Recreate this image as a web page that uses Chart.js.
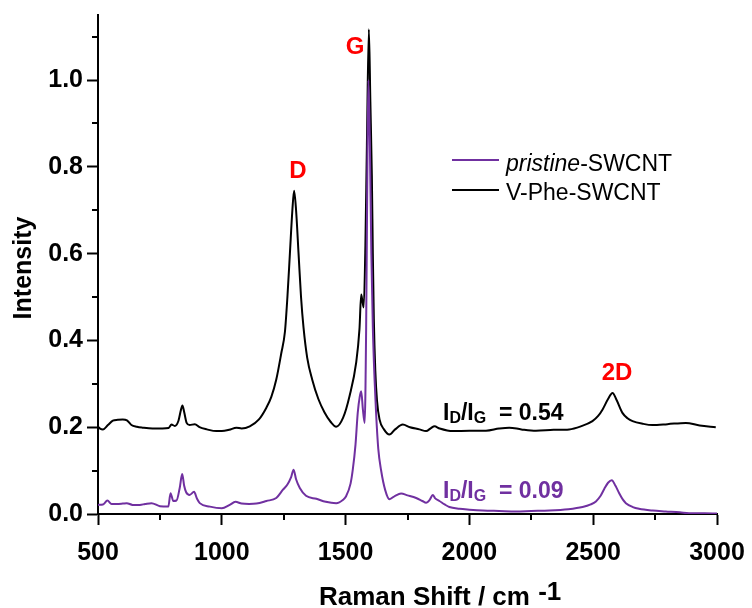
<!DOCTYPE html>
<html>
<head>
<meta charset="utf-8">
<script src="https://cdn.jsdelivr.net/npm/chart.js@4/dist/chart.umd.min.js"></script>
<style>
  html, body { margin: 0; padding: 0; background: #fff; }
  #wrap { width: 752px; height: 608px; }
</style>
</head>
<body>
<div id="wrap"><canvas id="c" width="752" height="608"></canvas></div>
<script>
// ---- data ----
const xTickValues = [500, 1000, 1500, 2000, 2500, 3000];
const yTickValues = [0.0, 0.2, 0.4, 0.6, 0.8, 1.0];
const seriesNames = ["pristine-SWCNT", "V-Phe-SWCNT"];

const shiftPristine = [500, 520, 538, 555, 575, 600, 616, 640, 669, 690, 716, 750, 784, 793, 804, 817, 830, 840, 848, 856, 870, 888, 900, 911, 952, 1000, 1032, 1055, 1080, 1110, 1140, 1180, 1220, 1247, 1265, 1280, 1290, 1300, 1315, 1340, 1382, 1420, 1462, 1490, 1502, 1520, 1529, 1540, 1549, 1557, 1563, 1570, 1577, 1583, 1588, 1592, 1598, 1604, 1610, 1617, 1623, 1632, 1643, 1660, 1677, 1700, 1724, 1750, 1785, 1810, 1825, 1840, 1852, 1862, 1879, 1900, 1919, 1960, 2000, 2054, 2120, 2188, 2250, 2323, 2400, 2457, 2490, 2511, 2530, 2545, 2560, 2575, 2590, 2605, 2620, 2632, 2660, 2685, 2740, 2793, 2850, 2887, 2950, 3000];
const intensityPristine = [0.021, 0.022, 0.031, 0.023, 0.023, 0.024, 0.025, 0.021, 0.021, 0.023, 0.025, 0.018, 0.017, 0.048, 0.030, 0.031, 0.060, 0.092, 0.065, 0.050, 0.044, 0.051, 0.035, 0.025, 0.017, 0.013, 0.021, 0.028, 0.024, 0.023, 0.024, 0.030, 0.037, 0.056, 0.068, 0.085, 0.102, 0.080, 0.060, 0.042, 0.035, 0.028, 0.025, 0.033, 0.041, 0.070, 0.102, 0.160, 0.233, 0.270, 0.283, 0.240, 0.210, 0.430, 0.800, 1.000, 0.850, 0.600, 0.430, 0.310, 0.234, 0.150, 0.102, 0.055, 0.034, 0.042, 0.047, 0.043, 0.037, 0.030, 0.026, 0.033, 0.044, 0.036, 0.030, 0.022, 0.016, 0.012, 0.010, 0.008, 0.007, 0.006, 0.007, 0.008, 0.011, 0.016, 0.022, 0.029, 0.042, 0.058, 0.072, 0.078, 0.065, 0.048, 0.033, 0.025, 0.016, 0.012, 0.008, 0.006, 0.004, 0.002, 0.002, 0.001];

const shiftVPhe = [500, 510, 520, 540, 560, 580, 600, 617, 635, 657, 680, 720, 760, 785, 797, 810, 825, 835, 841, 848, 858, 870, 891, 910, 940, 978, 1000, 1030, 1059, 1080, 1113, 1150, 1180, 1200, 1220, 1240, 1255, 1265, 1275, 1285, 1292, 1300, 1310, 1320, 1330, 1345, 1365, 1390, 1415, 1440, 1462, 1490, 1516, 1543, 1556, 1563, 1568, 1573, 1580, 1586, 1594, 1600, 1606, 1610, 1614, 1620, 1627, 1637, 1655, 1677, 1700, 1731, 1760, 1798, 1825, 1845, 1859, 1880, 1933, 2000, 2067, 2120, 2161, 2210, 2269, 2340, 2403, 2450, 2497, 2520, 2538, 2560, 2578, 2595, 2618, 2640, 2659, 2700, 2739, 2800, 2874, 2930, 2995];
const intensityVPhe = [0.201, 0.196, 0.195, 0.205, 0.215, 0.217, 0.218, 0.216, 0.205, 0.201, 0.199, 0.197, 0.197, 0.198, 0.206, 0.203, 0.215, 0.240, 0.250, 0.235, 0.210, 0.205, 0.207, 0.200, 0.195, 0.191, 0.191, 0.194, 0.199, 0.197, 0.202, 0.218, 0.245, 0.270, 0.310, 0.370, 0.420, 0.500, 0.600, 0.700, 0.745, 0.700, 0.600, 0.500, 0.430, 0.360, 0.310, 0.265, 0.234, 0.212, 0.201, 0.222, 0.272, 0.350, 0.426, 0.506, 0.490, 0.476, 0.620, 0.850, 1.117, 0.950, 0.780, 0.600, 0.450, 0.330, 0.260, 0.218, 0.195, 0.183, 0.195, 0.206, 0.200, 0.195, 0.191, 0.198, 0.202, 0.197, 0.191, 0.192, 0.192, 0.197, 0.199, 0.195, 0.192, 0.194, 0.195, 0.202, 0.214, 0.226, 0.241, 0.265, 0.279, 0.262, 0.233, 0.220, 0.214, 0.208, 0.205, 0.207, 0.210, 0.204, 0.200];

// ---- styling ----
const PURPLE = '#7030A0';
const FONT = "Arial, 'Liberation Sans', sans-serif";

function pts(xs, ys) { return xs.map((x, i) => ({ x: x, y: ys[i] })); }

const decorPlugin = {
  id: 'decor',
  afterDraw(chart) {
    const ctx = chart.ctx;
    const xs = chart.scales.x, ys = chart.scales.y;
    ctx.save();
    // minor ticks
    ctx.strokeStyle = '#000';
    ctx.lineWidth = 2;
    [0.1, 0.3, 0.5, 0.7, 0.9, 1.1].forEach(v => {
      const py = Math.round(ys.getPixelForValue(v));
      ctx.beginPath(); ctx.moveTo(xs.left - 6, py); ctx.lineTo(xs.left, py); ctx.stroke();
    });
    [750, 1250, 1750, 2250, 2750].forEach(v => {
      const px = Math.round(xs.getPixelForValue(v));
      ctx.beginPath(); ctx.moveTo(px, ys.bottom); ctx.lineTo(px, ys.bottom + 6); ctx.stroke();
    });

    // peak labels
    ctx.fillStyle = '#FF0000';
    ctx.font = 'bold 24px ' + FONT;
    ctx.textAlign = 'center';
    ctx.textBaseline = 'alphabetic';
    ctx.fillText('G', 355, 54);
    ctx.fillText('D', 298, 178);
    ctx.fillText('2D', 617, 380);

    // ratio labels
    function ratio(x, y, color, val) {
      ctx.fillStyle = color;
      ctx.textAlign = 'left';
      const big = 'bold 23px ' + FONT, small = 'bold 16px ' + FONT;
      const parts = [['I', big, 0], ['D', small, 3], ['/I', big, 0], ['G', small, 3], ['  = ' + val, big, 0]];
      let cx = x;
      parts.forEach(p => {
        ctx.font = p[1];
        ctx.fillText(p[0], cx, y + p[2]);
        cx += ctx.measureText(p[0]).width;
      });
    }
    ratio(443, 420, '#000', '0.54');
    ratio(443, 498, PURPLE, '0.09');

    // legend
    ctx.lineWidth = 2;
    ctx.strokeStyle = PURPLE;
    ctx.beginPath(); ctx.moveTo(452, 160); ctx.lineTo(499, 160); ctx.stroke();
    ctx.strokeStyle = '#000';
    ctx.beginPath(); ctx.moveTo(452, 190); ctx.lineTo(499, 190); ctx.stroke();
    ctx.fillStyle = '#000';
    ctx.font = 'italic 23px ' + FONT;
    ctx.fillText('pristine', 506, 171);
    let w = ctx.measureText('pristine').width;
    ctx.font = '23px ' + FONT;
    ctx.fillText('-SWCNT', 506 + w, 171);
    ctx.fillText(seriesNames[1], 506, 200);

    // x-axis title with superscript
    ctx.font = 'bold 26px ' + FONT;
    const t1 = 'Raman Shift / cm ';
    const t2 = '-1';
    const w1 = ctx.measureText(t1).width;
    const startX = 319;
    ctx.fillText(t1, startX, 605);
    ctx.fillText(t2, startX + w1 + 1, 600);

    // y-axis title
    ctx.font = 'bold 25px ' + FONT;
    ctx.translate(31, 268);
    ctx.rotate(-Math.PI / 2);
    ctx.textAlign = 'center';
    ctx.fillText('Intensity', 0, 0);
    ctx.restore();
  }
};

new Chart(document.getElementById('c'), {
  type: 'line',
  data: {
    datasets: [
      { label: seriesNames[0], data: pts(shiftPristine, intensityPristine), borderColor: PURPLE, borderWidth: 2, pointRadius: 0, cubicInterpolationMode: 'monotone', fill: false },
      { label: seriesNames[1], data: pts(shiftVPhe, intensityVPhe), borderColor: '#000', borderWidth: 2, pointRadius: 0, cubicInterpolationMode: 'monotone', fill: false }
    ]
  },
  options: {
    responsive: false,
    animation: false,
    events: [],
    layout: { padding: { top: 15, right: 35, left: 0, bottom: 0 } },
    plugins: { legend: { display: false }, tooltip: { enabled: false } },
    scales: {
      x: {
        type: 'linear', min: 500, max: 3000,
        afterFit(s) { s.height = 94; s.paddingLeft = 0; s.paddingRight = 0; },
        afterBuildTicks(s) { s.ticks = xTickValues.map(v => ({ value: v })); },
        ticks: { color: '#000', font: { family: FONT, size: 25, weight: 'bold' }, padding: 13, maxRotation: 0, autoSkip: false, callback: v => String(v) },
        grid: { drawOnChartArea: false, drawTicks: true, tickLength: 11, tickWidth: 2, tickColor: '#000' },
        border: { display: true, color: '#000', width: 2 },
        title: { display: false }
      },
      y: {
        type: 'linear', min: 0, max: 1.15,
        afterFit(s) { s.width = 98; s.paddingTop = 0; s.paddingBottom = 0; },
        afterBuildTicks(s) { s.ticks = yTickValues.map(v => ({ value: v })); },
        ticks: { color: '#000', font: { family: FONT, size: 25, weight: 'bold' }, padding: 4, callback: v => Number(v).toFixed(1), autoSkip: false },
        grid: { drawOnChartArea: false, drawTicks: true, tickLength: 11, tickWidth: 2, tickColor: '#000' },
        border: { display: true, color: '#000', width: 2 },
        title: { display: false }
      }
    }
  },
  plugins: [decorPlugin]
});
</script>
</body>
</html>
